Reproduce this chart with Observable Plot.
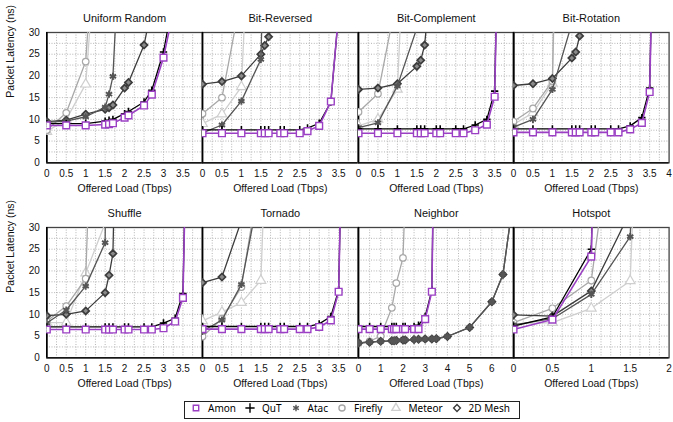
<!DOCTYPE html>
<html><head><meta charset="utf-8">
<script src="https://cdn.jsdelivr.net/npm/d3@7"></script>
<script src="https://cdn.jsdelivr.net/npm/@observablehq/plot@0.6"></script>
<style>
body{margin:0;background:#fff;font-family:"Liberation Sans",Arial,Helvetica,sans-serif;}
#chart{position:relative;width:673px;height:422px;overflow:hidden;background:#fff;}
#legendbox{position:absolute;left:184px;top:401px;width:336px;height:18px;box-sizing:border-box;border:1px solid #222;display:flex;align-items:center;padding-left:4px;}
.lg{font-family:"Liberation Sans",Arial,sans-serif !important;font-size:10.5px !important;margin:0 !important;min-height:0 !important;color:#111;display:flex !important;align-items:center;flex-wrap:nowrap !important;}
.lg-swatch{margin-right:7px !important;display:inline-flex !important;align-items:center;}
.lg-swatch > svg{margin-right:5px !important;}
</style></head><body><div id="chart"><div id="legendbox"></div></div><script>
// ---------- series definitions ----------
const seriesNames = ["Amon", "QuT", "Atac", "Firefly", "Meteor", "2D Mesh"];
const seriesColors = ["#9b40c4", "#000000", "#555555", "#a8a8a8", "#cfcfcf", "#3c3c3c"];
const seriesSymbols = ["square", "plus", "asterisk", "circle", "triangle", "diamond2"];

// ---------- panel titles / ticks ----------
const panelTitles = ["Uniform Random", "Bit-Reversed", "Bit-Complement", "Bit-Rotation", "Shuffle", "Tornado", "Neighbor", "Hotspot"];
const panelXMax = [4, 4, 4, 4, 4, 4, 7, 2];
const ticksTo35 = [0, 0.5, 1, 1.5, 2, 2.5, 3, 3.5];
const ticksTo4 = [0, 0.5, 1, 1.5, 2, 2.5, 3, 3.5, 4];
const ticksNeighbor = [0, 1, 2, 3, 4, 5, 6];
const ticksHotspot = [0, 0.5, 1, 1.5, 2];
const yTicks = [0, 5, 10, 15, 20, 25, 30];

// ---------- Uniform Random ----------
const loadsUniform   = [0, 0.5, 1, 1.5, 1.6, 1.7, 2, 2.1, 2.5, 2.7, 3, 3.3];
const amonUniform    = [8.6, 8.6, 8.6, 8.8, 8.9, 9.1, 10.4, 10.9, 13.2, 15.7, 24.2, 37];
const qutUniform     = [9.0, 9.0, 9.0, 9.6, 9.8, 10.0, 11.3, 11.8, 14.0, 16.7, 25.5, 40];
const atacUniform    = [9.3, 9.6, 10.6, 12.8, 15.8, 19.9, 74, null, null, null, null, null];
const fireflyUniform = [7.5, 11.5, 23.3, 90, null, null, null, null, null, null, null, null];
const meteorUniform  = [7.2, 10.0, 18.1, 78, null, null, null, null, null, null, null, null];
const meshUniform    = [9.5, 9.8, 11.2, 12.3, 12.7, 13.3, 17.2, 18.5, 27.1, 36, null, null];

// ---------- Bit-Reversed ----------
const loadsReversed   = [0, 0.5, 1, 1.5, 1.6, 1.7, 2, 2.1, 2.5, 2.7, 3, 3.3, 3.5];
const amonReversed    = [6.8, 6.8, 6.8, 6.8, 6.8, 6.8, 6.8, 6.8, 6.8, 7.3, 8.5, 14.1, 34.5];
const qutReversed     = [7.6, 7.6, 7.6, 7.6, 7.6, 7.6, 7.6, 7.6, 7.6, 8.0, 9.1, 14.0, 34.5];
const atacReversed    = [6.9, 8.7, 14.2, 23.8, 55, null, null, null, null, null, null, null, null];
const fireflyReversed = [11.3, 15.0, 38.5, null, null, null, null, null, null, null, null, null, null];
const meteorReversed  = [9.0, 11.2, 17.5, 113, null, null, null, null, null, null, null, null, null];
const meshReversed    = [18.1, 18.7, 20.0, 25.0, 27.0, 29.0, 38, null, null, null, null, null, null];

// ---------- Bit-Complement ----------
const loadsComplement   = [0, 0.5, 1, 1.5, 1.6, 1.7, 2, 2.1, 2.5, 2.7, 3, 3.3, 3.5, 3.7];
const amonComplement    = [6.8, 6.8, 6.8, 6.8, 6.8, 6.8, 6.8, 6.8, 6.8, 6.8, 7.5, 8.8, 15.2, 100];
const qutComplement     = [7.8, 7.8, 7.8, 7.8, 7.8, 7.8, 7.8, 7.8, 7.8, 7.8, 8.7, 10.0, 16.5, 100];
const atacComplement    = [8.1, 9.2, 17.7, 31, null, null, null, null, null, null, null, null, null, null];
const fireflyComplement = [11.7, 15.9, 38.7, null, null, null, null, null, null, null, null, null, null, null];
const meteorComplement  = [8.5, 10.0, 16.9, 117, null, null, null, null, null, null, null, null, null, null];
const meshComplement    = [16.9, 17.2, 18.2, 22.2, 23.6, 27.1, 56, null, null, null, null, null, null, null];

// ---------- Bit-Rotation ----------
const loadsRotation   = [0, 0.5, 1, 1.5, 1.6, 1.7, 2, 2.1, 2.5, 2.7, 3, 3.3, 3.5, 3.7];
const amonRotation    = [7.0, 7.0, 7.0, 7.0, 7.0, 7.0, 7.0, 7.0, 7.0, 7.0, 7.7, 9.2, 16.3, 100];
const qutRotation     = [7.8, 7.8, 7.8, 7.8, 7.8, 7.8, 7.8, 7.8, 7.8, 7.8, 8.5, 10.4, 17.2, 100];
const atacRotation    = [8.2, 10.0, 16.9, 32.1, null, null, null, null, null, null, null, null, null, null];
const fireflyRotation = [9.5, 12.5, 18.8, 250, null, null, null, null, null, null, null, null, null, null];
const meteorRotation  = [8.8, 11.5, 18.3, 200, null, null, null, null, null, null, null, null, null, null];
const meshRotation    = [17.8, 18.2, 19.4, 24.1, 25.5, 29.2, 45, null, null, null, null, null, null, null];

// ---------- Shuffle ----------
const loadsShuffle   = [0, 0.5, 1, 1.5, 1.6, 1.7, 2, 2.1, 2.5, 2.7, 3, 3.3, 3.5, 3.7];
const amonShuffle    = [6.5, 6.5, 6.5, 6.5, 6.5, 6.5, 6.5, 6.5, 6.5, 6.5, 6.8, 8.35, 13.8, 100];
const qutShuffle     = [7.1, 7.1, 7.1, 7.1, 7.1, 7.1, 7.1, 7.1, 7.1, 7.1, 8.0, 9.1, 14.8, 100];
const atacShuffle    = [8.0, 11.0, 16.5, 26.5, 150, null, null, null, null, null, null, null, null, null];
const fireflyShuffle = [8.4, 11.9, 18.2, 150, null, null, null, null, null, null, null, null, null, null];
const meteorShuffle  = [8.1, 8.1, 19.5, 31, null, null, null, null, null, null, null, null, null, null];
const meshShuffle    = [9.7, 10.0, 10.8, 15.0, 19.0, 24.0, 150, null, null, null, null, null, null, null];

// ---------- Tornado ----------
const loadsTornado   = [0, 0.5, 1, 1.5, 1.6, 1.7, 2, 2.1, 2.5, 2.7, 3, 3.3, 3.5, 3.7];
const amonTornado    = [6.6, 6.6, 6.6, 6.6, 6.6, 6.6, 6.6, 6.6, 6.6, 6.6, 7.1, 8.6, 15.2, 100];
const qutTornado     = [7.2, 7.2, 7.2, 7.2, 7.2, 7.2, 7.2, 7.2, 7.2, 7.2, 7.8, 9.5, 15.6, 100];
const atacTornado    = [6.1, 8.7, 16.9, 40.4, null, null, null, null, null, null, null, null, null, null];
const fireflyTornado = [4.9, 9.0, 16.3, 43.7, null, null, null, null, null, null, null, null, null, null];
const meteorTornado  = [8.5, 10.5, 12.7, 17.8, 42, null, null, null, null, null, null, null, null, null];
const meshTornado    = [17.3, 18.6, 31.6, null, null, null, null, null, null, null, null, null, null, null];

// ---------- Neighbor ----------
const loadsNeighbor   = [0, 0.5, 1, 1.5, 1.6, 1.7, 2, 2.1, 2.5, 2.7, 3, 3.3, 3.5, 4, 5, 6, 6.5, 7];
const amonNeighbor    = [6.6, 6.6, 6.6, 6.6, 6.6, 6.6, 6.6, 6.6, 6.6, 6.6, 8.9, 15.2, 89, null, null, null, null, null];
const qutNeighbor     = [7.2, 7.2, 7.2, 7.2, 7.2, 7.2, 7.2, 7.2, 7.2, 7.5, 9.5, 15.6, 89, null, null, null, null, null];
const atacNeighbor    = [3.4, 3.6, 3.8, 3.9, 3.95, 4.0, 4.1, 4.1, 4.2, 4.25, 4.3, 4.35, 4.4, 4.9, 7.0, 12.9, 19.2, 37.8];
const fireflyNeighbor = [3.4, 3.8, 5.0, 11.5, null, 17.2, 23.0, 37, null, null, null, null, null, null, null, null, null, null];
const meteorNeighbor  = [null, null, null, null, null, null, null, null, null, null, null, null, null, null, null, null, null, null];
const meshNeighbor    = [3.4, 3.6, 3.8, 3.9, 3.95, 4.0, 4.1, 4.1, 4.2, 4.25, 4.3, 4.35, 4.4, 4.9, 7.0, 12.9, 19.2, 37.8];

// ---------- Hotspot ----------
const loadsHotspot   = [0, 0.5, 1, 1.5, 2];
const amonHotspot    = [6.5, 8.8, 23.3, 400, null];
const qutHotspot     = [7.3, 9.4, 25.0, 400, null];
const atacHotspot    = [7.6, 9.0, 14.6, 27.9, 250];
const fireflyHotspot = [8.1, 11.4, 17.8, 85, null];
const meteorHotspot  = [7.8, 8.1, 11.4, 17.7, 250];
const meshHotspot    = [9.9, 9.6, 15.4, 33.6, null];

// ---------- assemble ----------
const panels = [
  {loads: loadsUniform, series: [amonUniform, qutUniform, atacUniform, fireflyUniform, meteorUniform, meshUniform], ticks: ticksTo35},
  {loads: loadsReversed, series: [amonReversed, qutReversed, atacReversed, fireflyReversed, meteorReversed, meshReversed], ticks: ticksTo35},
  {loads: loadsComplement, series: [amonComplement, qutComplement, atacComplement, fireflyComplement, meteorComplement, meshComplement], ticks: ticksTo35},
  {loads: loadsRotation, series: [amonRotation, qutRotation, atacRotation, fireflyRotation, meteorRotation, meshRotation], ticks: ticksTo4},
  {loads: loadsShuffle, series: [amonShuffle, qutShuffle, atacShuffle, fireflyShuffle, meteorShuffle, meshShuffle], ticks: ticksTo35},
  {loads: loadsTornado, series: [amonTornado, qutTornado, atacTornado, fireflyTornado, meteorTornado, meshTornado], ticks: ticksTo35},
  {loads: loadsNeighbor, series: [amonNeighbor, qutNeighbor, atacNeighbor, fireflyNeighbor, meteorNeighbor, meshNeighbor], ticks: ticksNeighbor},
  {loads: loadsHotspot, series: [amonHotspot, qutHotspot, atacHotspot, fireflyHotspot, meteorHotspot, meshHotspot], ticks: ticksHotspot}
];

const drawOrder = [4, 3, 5, 2, 1, 0];
const dotR = [3.8, 2.5, 3.4, 3.3, 3.6, 3.2];
const dotSW = [1.4, 1.6, 1.9, 1.2, 1.2, 1.7];
const dotFill = ["white", "white", "white", "white", "white", "#8a8a8a"];
const lineSW = [1.6, 1.3, 1.3, 1.3, 1.3, 1.3];

const chart = document.getElementById("chart");
const X0 = 46.3, PW = 155.6, PH = 130.3;
const rowTop = [31.6, 226.5];
const mT = 24, mB = 42, mR = 14;
const FONT = "'Liberation Sans', Arial, Helvetica, sans-serif";

panels.forEach((p, i) => {
  const row = Math.floor(i / 4), col = i % 4;
  const mL = col === 0 ? X0 : 14;
  const xmax = panelXMax[i];
  const gridStep = xmax === 2 ? 0.125 : xmax === 7 ? 0.5 : 0.25;
  const xGrid = d3.range(gridStep, xmax - 1e-9, gridStep);
  const yGrid = d3.range(2.5, 30, 2.5);
  const rows = [];
  p.series.forEach((vals, s) => vals.forEach((v, k) => {
    if (v != null) rows.push({series: seriesNames[s], load: p.loads[k], latency: v});
  }));
  const marks = [
    Plot.ruleX(xGrid, {stroke: "#b4b4b4", strokeDasharray: "1,1.6", strokeWidth: 1}),
    Plot.ruleY(yGrid, {stroke: "#b4b4b4", strokeDasharray: "1,1.6", strokeWidth: 1}),
    Plot.frame({stroke: "#444", strokeWidth: 1.3}),
    Plot.ruleX([0], {stroke: "#000", strokeWidth: 1.6}),
    Plot.ruleY([0], {stroke: "#000", strokeWidth: 1.3})
  ];
  drawOrder.forEach(s => {
    const d = rows.filter(r => r.series === seriesNames[s]);
    if (!d.length) return;
    marks.push(Plot.line(d, {x: "load", y: "latency", stroke: seriesColors[s], strokeWidth: lineSW[s], clip: true}));
    marks.push(Plot.dot(d, {x: "load", y: "latency", symbol: () => seriesSymbols[s], stroke: seriesColors[s], fill: dotFill[s], r: dotR[s], strokeWidth: dotSW[s], clip: true}));
  });
  marks.push(Plot.text([panelTitles[i]], {frameAnchor: "top", dy: -18, fontSize: 11, text: d => d, fill: "#111"}));
  marks.push(Plot.text(["Offered Load (Tbps)"], {frameAnchor: "bottom", dy: 29, fontSize: 10.5, text: d => d, fill: "#111"}));
  if (col === 0) marks.push(Plot.text(["Packet Latency (ns)"], {frameAnchor: "left", dx: -36, rotate: -90, fontSize: 10.5, text: d => d, fill: "#111"}));

  const plot = Plot.plot({
    width: PW + mL + mR,
    height: PH + mT + mB,
    marginLeft: mL, marginRight: mR, marginTop: mT, marginBottom: mB,
    style: {fontFamily: FONT, fontSize: "10px", color: "#111", background: "transparent", overflow: "visible"},
    x: {domain: [0, xmax], ticks: p.ticks, tickFormat: d => String(d), tickSize: 0, tickPadding: 7, label: null},
    y: {domain: [0, 30], ticks: yTicks, tickFormat: d => String(d), tickSize: 0, tickPadding: 7, label: null, axis: col === 0 ? "left" : null},
    symbol: {type: "identity"},
    marks
  });
  plot.style.position = "absolute";
  plot.style.left = (X0 + col * PW - mL) + "px";
  plot.style.top = (rowTop[row] - mT) + "px";
  chart.appendChild(plot);
});

const legend = Plot.legend({
  symbol: {domain: seriesNames, range: seriesSymbols},
  color: {domain: seriesNames, range: seriesColors},
  className: "lg",
  r: 3.5,
  strokeWidth: 1.6,
  swatchSize: 14
});
document.getElementById("legendbox").appendChild(legend);
</script></body></html>
